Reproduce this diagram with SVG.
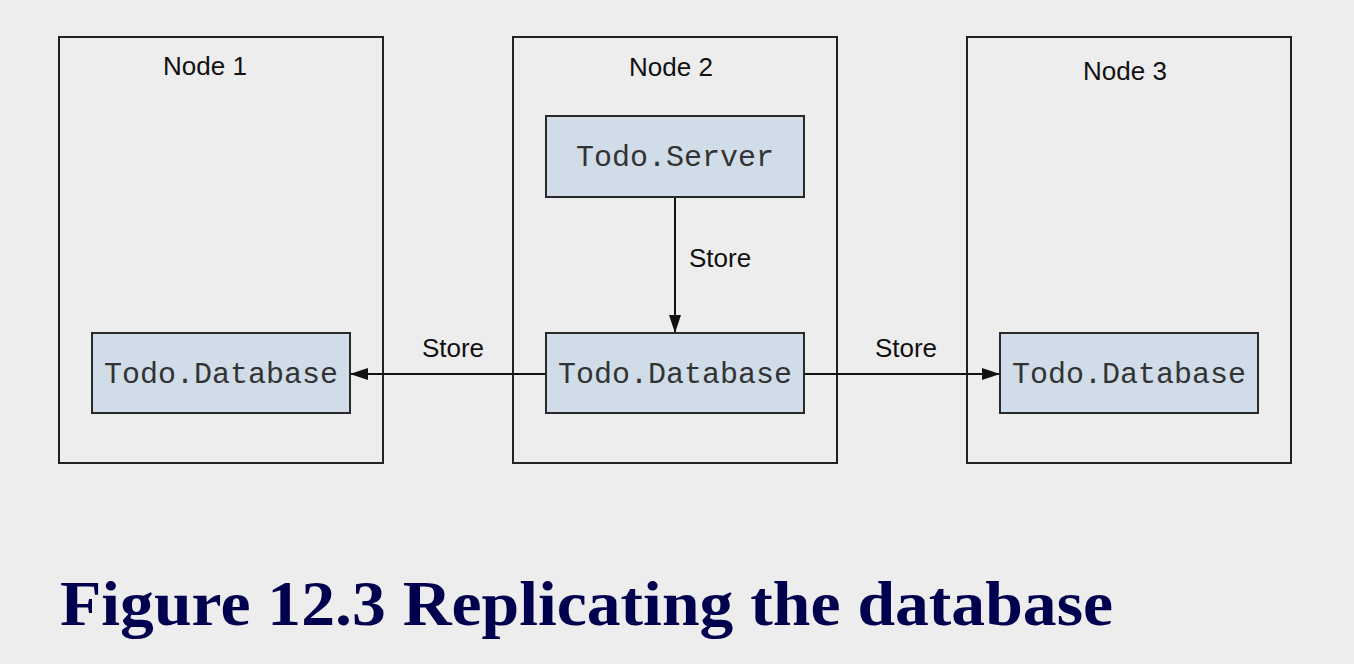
<svg xmlns="http://www.w3.org/2000/svg" width="1354" height="664" viewBox="0 0 1354 664">
<style>
.host{fill:none;stroke:#222;stroke-width:2}
.box{fill:#d0dce8;stroke:#2a2a2a;stroke-width:2}
.mono{font-family:"Liberation Mono","Courier New",monospace;font-size:30px;fill:#333;text-anchor:middle}
.lbl{font-family:"Liberation Sans",Arial,sans-serif;font-size:26px;fill:#111}
.conn{stroke:#111;stroke-width:2;fill:none}
.cap{font-family:"Liberation Serif","Times New Roman",serif;font-weight:bold;font-size:64px;fill:#00004f}
</style>
<defs>
<marker id="arr" viewBox="0 0 18 12" refX="18" refY="6" markerWidth="18" markerHeight="12" markerUnits="userSpaceOnUse" orient="auto">
<path d="M0,0 L18,6 L0,12 Z" fill="#111"/>
</marker>
</defs>
<rect width="1354" height="664" fill="#ededed"/>
<g id="node1">
<rect class="host" x="59" y="37" width="324" height="426"/>
<text class="lbl" x="205" y="75" text-anchor="middle">Node 1</text>
</g>
<g id="node2">
<rect class="host" x="513" y="37" width="324" height="426"/>
<text class="lbl" x="671" y="76" text-anchor="middle">Node 2</text>
</g>
<g id="node3">
<rect class="host" x="967" y="37" width="324" height="426"/>
<text class="lbl" x="1125" y="80" text-anchor="middle">Node 3</text>
</g>
<g id="connectors">
<line class="conn" x1="675" y1="197" x2="675" y2="333" marker-end="url(#arr)"/>
<line class="conn" x1="546" y1="374" x2="350" y2="374" marker-end="url(#arr)"/>
<line class="conn" x1="804" y1="374" x2="1000" y2="374" marker-end="url(#arr)"/>
<text class="lbl" x="689" y="267">Store</text>
<text class="lbl" x="453" y="357" text-anchor="middle">Store</text>
<text class="lbl" x="906" y="357" text-anchor="middle">Store</text>
</g>
<g id="server">
<rect class="box" x="546" y="116" width="258" height="81"/>
<text class="mono" x="675" y="166">Todo.Server</text>
</g>
<g id="db2">
<rect class="box" x="546" y="333" width="258" height="80"/>
<text class="mono" x="675" y="383">Todo.Database</text>
</g>
<g id="db1">
<rect class="box" x="92" y="333" width="258" height="80"/>
<text class="mono" x="221" y="383">Todo.Database</text>
</g>
<g id="db3">
<rect class="box" x="1000" y="333" width="258" height="80"/>
<text class="mono" x="1129" y="383">Todo.Database</text>
</g>
<text class="cap" x="60" y="625" textLength="1053" lengthAdjust="spacingAndGlyphs">Figure 12.3 Replicating the database</text>
</svg>
